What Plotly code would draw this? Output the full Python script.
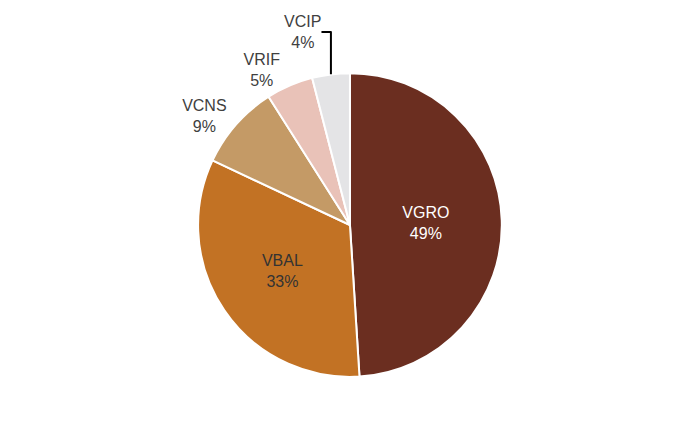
import plotly.graph_objects as go

labels = ["VGRO", "VBAL", "VCNS", "VRIF", "VCIP"]
values = [49, 33, 9, 5, 4]
colors = ["#6B2E20", "#C27224", "#C49A66", "#E9C2B8", "#E4E4E6"]
text_colors = ["white", "#333333", "#404040", "#404040", "#404040"]
positions = ["inside", "inside", "outside", "outside", "outside"]

fig = go.Figure(go.Pie(
    labels=labels, values=values, sort=False, direction="clockwise", rotation=0,
    marker=dict(colors=colors, line=dict(color="white", width=2)),
    texttemplate="%{label}<br>%{percent:.0%}", textposition=positions,
    textfont=dict(family="Liberation Sans, Arial", size=16, color=text_colors),
    insidetextorientation="horizontal",
    domain=dict(x=[0.245, 0.732], y=[0.139, 0.949]),
    showlegend=False, hoverinfo="label+percent",
))
fig.update_layout(width=700, height=421, margin=dict(l=0, r=0, t=0, b=0),
                  paper_bgcolor="white", plot_bgcolor="white")
fig.write_html("out.html")
